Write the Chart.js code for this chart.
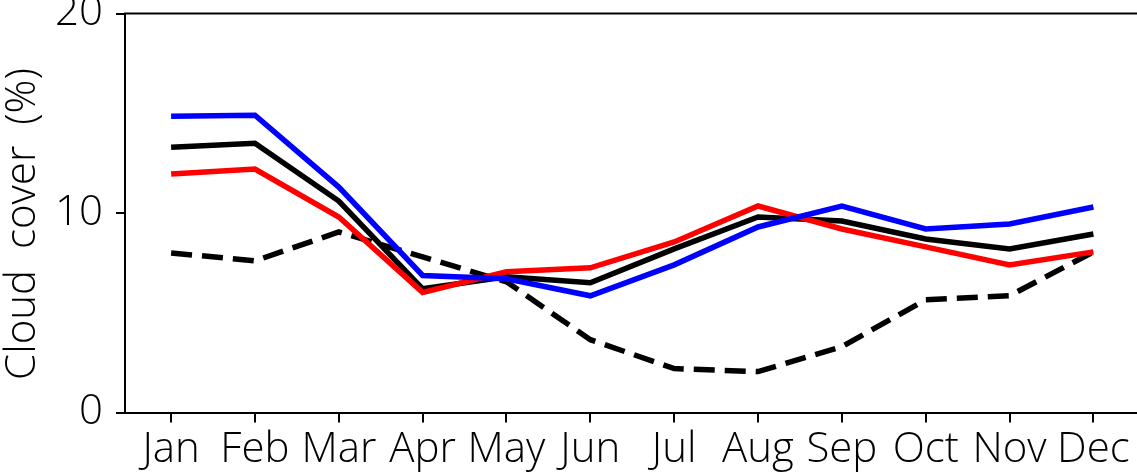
<!DOCTYPE html>
<html>
<head>
<meta charset="utf-8">
<script src="https://cdn.jsdelivr.net/npm/chart.js@4.4.1/dist/chart.umd.min.js"></script>
<style>
  html, body { margin: 0; padding: 0; background: #fff; }
</style>
</head>
<body>
<canvas id="myChart" width="1137" height="472"></canvas>
<script>
var months = ["Jan", "Feb", "Mar", "Apr", "May", "Jun", "Jul", "Aug", "Sep", "Oct", "Nov", "Dec"];
var yTicks = [0, 10, 20];
var yTitle = "Cloud cover (%)";

var blueVals = [14.85, 14.9, 11.3, 6.87, 6.7, 5.85, 7.4, 9.3, 10.35, 9.2, 9.45, 10.3];
var redVals = [11.95, 12.2, 9.8, 6.02, 7.05, 7.25, 8.55, 10.35, 9.2, 8.3, 7.4, 8.05];
var blackVals = [13.3, 13.5, 10.6, 6.2, 6.8, 6.5, 8.2, 9.8, 9.6, 8.7, 8.2, 8.95];
var dashedVals = [8.0, 7.6, 9.05, 7.8, 6.55, 3.65, 2.2, 2.05, 3.3, 5.65, 5.85, 8.05];

var fontFamily = "'Open Sans', 'Noto Sans', sans-serif";
var fontSize = 42;

function toPoints(vals) {
  return vals.map((v, i) => ({ x: i, y: v }));
}

// top spine and the y axis title
var framePlugin = {
  id: "frame",
  afterDraw: function (chart) {
    var ctx = chart.ctx;
    var a = chart.chartArea;
    ctx.save();
    ctx.strokeStyle = "#000";
    ctx.lineWidth = 2;
    ctx.beginPath();
    ctx.moveTo(a.left - 1, a.top);
    ctx.lineTo(a.right, a.top);
    ctx.stroke();

    ctx.translate(23, (a.top + a.bottom) / 2 + 11);
    ctx.rotate(-Math.PI / 2);
    ctx.font = "300 " + fontSize + "px " + fontFamily;
    if ("wordSpacing" in ctx) ctx.wordSpacing = "10px";
    ctx.fillStyle = "#000";
    ctx.textAlign = "center";
    ctx.textBaseline = "middle";
    ctx.fillText(yTitle, 0, 0);
    ctx.restore();
  },
};

var ctx = document.getElementById("myChart").getContext("2d");
var myChart = new Chart(ctx, {
  type: "line",
  data: {
    datasets: [
      { label: "blue", data: toPoints(blueVals), borderColor: "#0000ff" },
      { label: "red", data: toPoints(redVals), borderColor: "#ff0000" },
      { label: "black", data: toPoints(blackVals), borderColor: "#000000" },
      {
        label: "dashed",
        data: toPoints(dashedVals),
        borderColor: "#000000",
        borderDash: [21, 10],
      },
    ],
  },
  options: {
    responsive: false,
    animation: false,
    layout: { padding: { top: 13.5, right: 0, left: 0, bottom: 0 } },
    elements: {
      line: { borderWidth: 5.5, tension: 0, fill: false },
      point: { radius: 0, hoverRadius: 0 },
    },
    plugins: {
      legend: { display: false },
      tooltip: { enabled: false },
    },
    scales: {
      x: {
        type: "linear",
        min: -0.55,
        max: 11.52,
        afterBuildTicks: (scale) => {
          scale.ticks = months.map((m, i) => ({ value: i }));
        },
        afterFit: (scale) => {
          scale.height = 59.5;
          scale.paddingLeft = 0;
          scale.paddingRight = 0;
        },
        ticks: {
          callback: (v) => months[v],
          color: "#000",
          padding: 2,
          maxRotation: 0,
          autoSkip: false,
          font: { family: fontFamily, size: fontSize, weight: 300 },
        },
        grid: {
          drawOnChartArea: false,
          drawTicks: true,
          tickLength: 10,
          color: "#000",
          lineWidth: 2,
        },
        border: { display: true, color: "#000", width: 2 },
      },
      y: {
        min: 0,
        max: 20,
        afterBuildTicks: (scale) => {
          scale.ticks = yTicks.map((v) => ({ value: v }));
        },
        afterFit: (scale) => {
          scale.width = 125;
          scale.paddingTop = 0;
          scale.paddingBottom = 0;
        },
        ticks: {
          color: "#000",
          padding: 13,
          font: { family: fontFamily, size: fontSize, weight: 300 },
        },
        grid: {
          drawOnChartArea: false,
          drawTicks: true,
          tickLength: 9,
          color: "#000",
          lineWidth: 2,
        },
        border: { display: true, color: "#000", width: 2 },
      },
    },
  },
  plugins: [framePlugin],
});
</script>
</body>
</html>
